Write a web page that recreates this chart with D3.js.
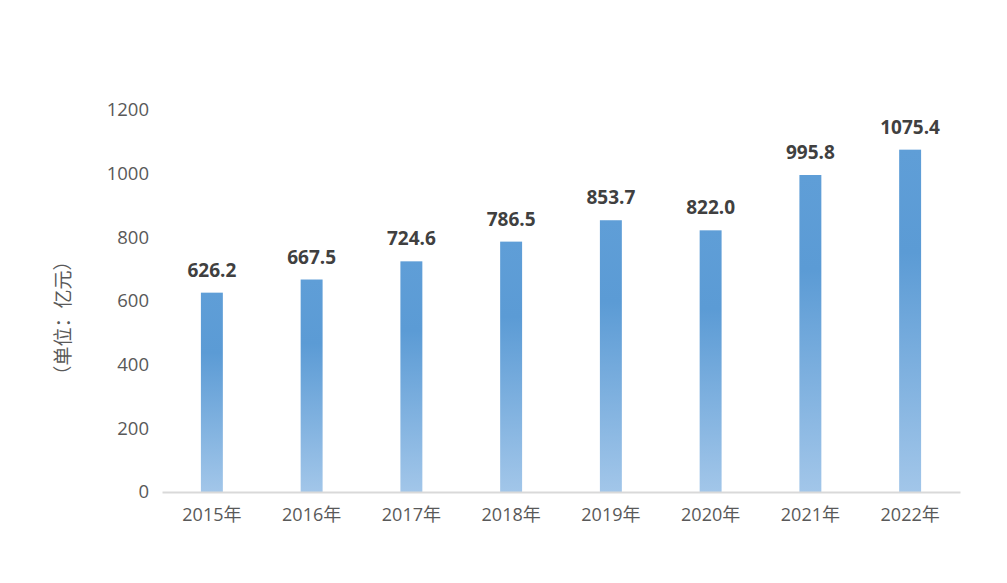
<!DOCTYPE html>
<html>
<head>
<meta charset="utf-8">
<script src="https://cdn.jsdelivr.net/npm/d3@7"></script>
<style>
  body { margin: 0; background: #fff; }
  text { font-family: "Open Sans", "Noto Sans CJK SC", sans-serif; }
</style>
</head>
<body>
<div id="chart"></div>
<script>
var years = ["2015年", "2016年", "2017年", "2018年", "2019年", "2020年", "2021年", "2022年"];
var values = [626.2, 667.5, 724.6, 786.5, 853.7, 822.0, 995.8, 1075.4];
var yTicks = [0, 200, 400, 600, 800, 1000, 1200];

var w = 1007,
  h = 583;
var margin = { left: 162, right: 47, top: 110, bottom: 91 },
  width = w - margin.left - margin.right,
  height = h - margin.top - margin.bottom;

var svg = d3
  .select("#chart")
  .append("svg")
  .attr("width", w)
  .attr("height", h);

var defs = svg.append("defs");
var grad = defs
  .append("linearGradient")
  .attr("id", "barGrad")
  .attr("x1", "0")
  .attr("y1", "0")
  .attr("x2", "0")
  .attr("y2", "1");
grad.append("stop").attr("offset", "0%").attr("stop-color", "#5f9ed7");
grad.append("stop").attr("offset", "30%").attr("stop-color", "#5b9bd5");
grad.append("stop").attr("offset", "100%").attr("stop-color", "#a2c6e9");

var g = svg.append("g").attr("transform", `translate(${margin.left}, ${margin.top})`);

var x = d3.scaleBand().domain(years).range([0, width]).paddingInner(0.78).paddingOuter(0.39);
var y = d3.scaleLinear().domain([0, 1200]).range([height, 0]);

// y axis labels
var yAxis = g
  .append("g")
  .call(d3.axisLeft(y).tickValues(yTicks).tickSize(0).tickPadding(13).tickFormat(d3.format("d")));
yAxis.select(".domain").remove();
yAxis
  .selectAll("text")
  .attr("fill", "#595959")
  .style("font-size", "18.5px")
  .style("font-family", '"Open Sans", "Noto Sans CJK SC", sans-serif');

// bars
g.selectAll(".bar")
  .data(values)
  .enter()
  .append("rect")
  .attr("class", "bar")
  .attr("x", (d, i) => x(years[i]))
  .attr("y", (d) => y(d))
  .attr("width", x.bandwidth())
  .attr("height", (d) => height - y(d))
  .attr("fill", "url(#barGrad)");

// x axis
var xAxis = g
  .append("g")
  .attr("transform", `translate(0, ${height})`)
  .call(d3.axisBottom(x).tickSize(0).tickPadding(16));
xAxis.select(".domain").attr("stroke", "#d9d9d9").attr("stroke-width", 2);
xAxis
  .selectAll("text")
  .attr("fill", "#595959")
  .style("font-size", "18px")
  .style("font-family", '"Open Sans", "Noto Sans CJK SC", sans-serif');

// value labels
g.selectAll(".val")
  .data(values)
  .enter()
  .append("text")
  .attr("class", "val")
  .attr("x", (d, i) => x(years[i]) + x.bandwidth() / 2)
  .attr("y", (d) => y(d) - 16)
  .attr("text-anchor", "middle")
  .attr("fill", "#404040")
  .style("font-size", "19px")
  .style("font-weight", "bold")
  .text((d) => d.toFixed(1));

// y title
svg
  .append("text")
  .attr("transform", "translate(70, 318) rotate(-90)")
  .attr("text-anchor", "middle")
  .attr("fill", "#595959")
  .style("font-size", "19px")
  .text("（单位：亿元）");
</script>
</body>
</html>
